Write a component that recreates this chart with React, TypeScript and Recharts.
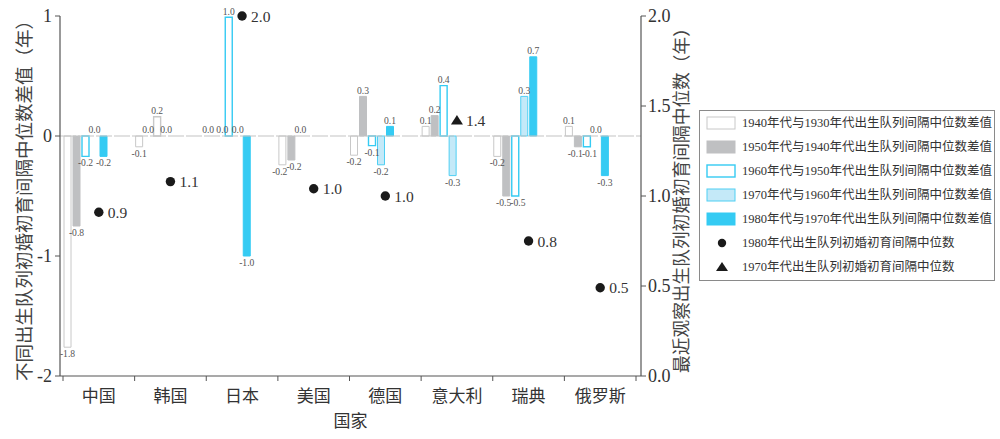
import React from 'react';
import { ComposedChart, Bar, Scatter, XAxis, YAxis, ReferenceLine, LabelList, Label, Cell, Rectangle } from 'recharts';

const countries = ['中国', '韩国', '日本', '美国', '德国', '意大利', '瑞典', '俄罗斯'];
const diff1940 = [-1.76, -0.09, 0.0, -0.24, -0.16, 0.08, -0.17, 0.08];
const diff1950 = [-0.75, 0.0, 0.0, -0.2, 0.33, 0.17, -0.5, -0.09];
const diff1960 = [-0.17, 0.16, 0.99, 0.0, -0.08, 0.42, -0.5, -0.09];
const diff1970 = [0.0, 0.0, 0.0, null, -0.24, -0.33, 0.33, 0.0];
const diff1980 = [-0.17, null, -1.0, null, 0.08, null, 0.66, -0.33];
const median1980 = [0.91, 1.08, 2.0, 1.04, 1.0, null, 0.75, 0.49];
const median1970 = [null, null, null, null, null, 1.42, null, null];

const leftTicks = [-2, -1, 0, 1];
const rightTicks = [0, 0.5, 1, 1.5, 2];

const barNames = [
  '1940年代与1930年代出生队列间隔中位数差值',
  '1950年代与1940年代出生队列间隔中位数差值',
  '1960年代与1950年代出生队列间隔中位数差值',
  '1970年代与1960年代出生队列间隔中位数差值',
  '1980年代与1970年代出生队列间隔中位数差值',
];
const dotNames = ['1980年代出生队列初婚初育间隔中位数', '1970年代出生队列初婚初育间隔中位数'];
const leftTitle = '不同出生队列初婚初育间隔中位数差值（年）';
const rightTitle = '最近观察出生队列初婚初育间隔中位数（年）';
const xTitle = '国家';

const FONT = '"Liberation Serif", "Noto Sans CJK SC", serif';
const CYAN = '#35cbf3';

const barStyles = [
  { key: 'd1940', fill: '#ffffff', stroke: '#c8c8c8', sw: 1 },
  { key: 'd1950', fill: '#bfc0c2', stroke: '#bfc0c2', sw: 1 },
  { key: 'd1960', fill: '#ffffff', stroke: CYAN, sw: 1.4 },
  { key: 'd1970', fill: '#c4e9f8', stroke: '#4fcff3', sw: 1 },
  { key: 'd1980', fill: CYAN, stroke: CYAN, sw: 1 },
];
const seriesArrays = [diff1940, diff1950, diff1960, diff1970, diff1980];
const spacerKeys = ['s1', 's2', 's3'];

const data = countries.map((c, i) => ({
  country: c,
  d1940: diff1940[i],
  d1950: diff1950[i],
  d1960: diff1960[i],
  d1970: diff1970[i],
  d1980: diff1980[i],
  m1980: median1980[i],
  m1970: median1970[i],
}));

const LABEL_FS = 9.6;

const makeBarLabel = (si: number) => (props: any) => {
  const { x, y, width, height, index } = props;
  let value = props.value;
  if (Array.isArray(value)) value = value[1];
  if (value == null || isNaN(Number(value))) return null;
  const v = Number(value);
  const cx = Number(x) + Number(width) / 2;
  const h = Number(height) || 0;
  const top = Math.min(Number(y), Number(y) + h);
  const bottom = Math.max(Number(y), Number(y) + h);
  const ppu = v !== 0 && Math.abs(h) > 1 ? Math.abs(h / v) : 120;
  const collides = (vn: any) =>
    vn != null && (vn >= 0) === (v >= 0) && Math.abs(vn - v) * ppu < 9;
  let shift = 0;
  const prev = si > 0 ? seriesArrays[si - 1][index] : null;
  const next = si < seriesArrays.length - 1 ? seriesArrays[si + 1][index] : null;
  if (collides(prev)) shift += 2.6;
  if (collides(next)) shift -= 2.6;
  const txt = v.toFixed(1);
  const ty = v >= 0 ? top - 2.5 : bottom + 10;
  return (
    <text x={cx + shift} y={ty} textAnchor="middle" fontSize={LABEL_FS} fill="#555" fontFamily={FONT}>
      {txt}
    </text>
  );
};

const BarShape = (props: any) => {
  if (!props || Math.abs(Number(props.height) || 0) < 0.5) return null;
  return <Rectangle {...props} />;
};

const makeShape = (key: string, kind: 'circle' | 'triangle') => (props: any) => {
  const { cx, cy, payload } = props;
  const v = payload ? payload[key] : null;
  if (v == null || cx == null || cy == null || isNaN(cy)) return null;
  return (
    <g>
      {kind === 'circle' ? (
        <circle cx={cx} cy={cy} r={4.7} fill="#1a1a1a" />
      ) : (
        <polygon points={`${cx},${cy - 5.5} ${cx - 6},${cy + 4} ${cx + 6},${cy + 4}`} fill="#1a1a1a" />
      )}
      <text x={cx + 9} y={cy} dominantBaseline="central" fontSize={15.5} fill="#333" fontFamily={FONT}>
        {Number(v).toFixed(1)}
      </text>
    </g>
  );
};

const XTick = (props: any) => {
  const { x, y, payload, index, visibleTicksCount } = props;
  const half = payload && payload.offset ? payload.offset : 35.8;
  const isLast = index === (visibleTicksCount ?? countries.length) - 1;
  return (
    <g>
      <line x1={x - half} x2={x - half} y1={y} y2={y + 5} stroke="#555" strokeWidth={1} />
      {isLast && <line x1={x + half} x2={x + half} y1={y} y2={y + 5} stroke="#555" strokeWidth={1} />}
      <text x={x} y={y + 20} textAnchor="middle" dominantBaseline="central" fontSize={17} fill="#333" fontFamily={FONT}>
        {payload.value}
      </text>
    </g>
  );
};

const LeftTitle = (props: any) => {
  const vb = props.viewBox || { x: 0, y: 16, width: 60, height: 360 };
  const cx = vb.x + 25;
  const cy = vb.y + vb.height / 2;
  return (
    <text x={cx} y={cy} transform={`rotate(-90 ${cx} ${cy})`} textAnchor="middle" dominantBaseline="central" fontSize={18.5} fill="#444" fontFamily={FONT}>
      {leftTitle}
    </text>
  );
};

const RightTitle = (props: any) => {
  const vb = props.viewBox || { x: 641, y: 16, width: 80, height: 360 };
  const cx = vb.x + 41;
  const cy = vb.y + vb.height / 2;
  return (
    <text x={cx} y={cy} transform={`rotate(-90 ${cx} ${cy})`} textAnchor="middle" dominantBaseline="central" fontSize={17.7} fill="#444" fontFamily={FONT}>
      {rightTitle}
    </text>
  );
};

const Legend = () => {
  const rowY = (i: number) => 13 + i * 24;
  return (
    <svg width={296} height={171} style={{ position: 'absolute', left: 699, top: 110 }}>
      <rect x={0.5} y={0.5} width={295} height={170} fill="#fff" stroke="#8a8a8a" strokeWidth={1} />
      {barStyles.map((s, i) => (
        <g key={s.key}>
          <rect x={8} y={rowY(i) - 6} width={28} height={12} fill={s.fill} stroke={s.stroke} strokeWidth={s.sw} />
          <text x={43} y={rowY(i)} dominantBaseline="central" fontSize={12.5} fill="#333" fontFamily={FONT}>
            {barNames[i]}
          </text>
        </g>
      ))}
      <circle cx={23} cy={rowY(5)} r={4.2} fill="#1a1a1a" />
      <text x={43} y={rowY(5)} dominantBaseline="central" fontSize={12.5} fill="#333" fontFamily={FONT}>
        {dotNames[0]}
      </text>
      <polygon points={`23,${rowY(6) - 5} 17,${rowY(6) + 4} 29,${rowY(6) + 4}`} fill="#1a1a1a" />
      <text x={43} y={rowY(6)} dominantBaseline="central" fontSize={12.5} fill="#333" fontFamily={FONT}>
        {dotNames[1]}
      </text>
    </svg>
  );
};

export default function App() {
  return (
    <div style={{ position: 'absolute', left: 0, top: 0, width: 1000, height: 439, background: '#fff' }}>
      <ComposedChart
        width={1000}
        height={439}
        data={data}
        margin={{ top: 16, right: 279, bottom: 0, left: 0 }}
        barSize={7}
        barGap={2}
      >
        <XAxis
          dataKey="country"
          xAxisId="x"
          height={63}
          padding={{ left: 3, right: 5 }}
          axisLine={{ stroke: '#555', strokeWidth: 1.2 }}
          tickLine={false}
          tickSize={0}
          tickMargin={0}
          tick={<XTick />}
          interval={0}
        >
          <Label
            content={(p: any) => {
              const vb = p.viewBox || { x: 60, y: 376, width: 581, height: 63 };
              return (
                <text x={vb.x + vb.width / 2} y={vb.y + 45} textAnchor="middle" dominantBaseline="central" fontSize={17} fill="#333" fontFamily={FONT}>
                  {xTitle}
                </text>
              );
            }}
          />
        </XAxis>
        <YAxis
          yAxisId="left"
          orientation="left"
          width={60}
          domain={[-2, 1]}
          ticks={leftTicks}
          axisLine={{ stroke: '#555', strokeWidth: 1.2 }}
          tickLine={{ stroke: '#555' }}
          tickSize={5}
          tickMargin={3}
          tick={{ fontSize: 18, fill: '#333', fontFamily: FONT }}
          tickFormatter={(v: number) => String(v)}
        >
          <Label content={<LeftTitle />} />
        </YAxis>
        <YAxis
          yAxisId="right"
          orientation="right"
          width={80}
          domain={[0, 2]}
          ticks={rightTicks}
          axisLine={{ stroke: '#555', strokeWidth: 1.2 }}
          tickLine={{ stroke: '#555' }}
          tickSize={5}
          tickMargin={2}
          tick={{ fontSize: 18, fill: '#333', fontFamily: FONT }}
          tickFormatter={(v: number) => v.toFixed(1)}
        >
          <Label content={<RightTitle />} />
        </YAxis>
        <ReferenceLine y={0} yAxisId="left" xAxisId="x" stroke="#c4c4c4" strokeWidth={1.2} strokeDasharray="16 2" />
        {barStyles.map((s, si) => (
          <Bar
            key={s.key}
            dataKey={s.key}
            xAxisId="x"
            yAxisId="left"
            fill={s.fill}
            stroke={s.stroke}
            strokeWidth={s.sw}
            minPointSize={(value: any) => (value === 0 ? 0.01 : 0)}
            shape={<BarShape />}
            isAnimationActive={false}
          >
            {s.key === 'd1960' &&
              data.map((d, i) => (
                <Cell key={i} stroke={d.country === '韩国' ? '#c8c8c8' : s.stroke} />
              ))}
            <LabelList dataKey={s.key} content={makeBarLabel(si)} />
          </Bar>
        ))}
        {spacerKeys.map((k) => (
          <Bar key={k} dataKey={k} xAxisId="x" yAxisId="left" fill="none" legendType="none" isAnimationActive={false} />
        ))}
        <Scatter dataKey="m1980" xAxisId="x" yAxisId="right" isAnimationActive={false} shape={makeShape('m1980', 'circle')} />
        <Scatter dataKey="m1970" xAxisId="x" yAxisId="right" isAnimationActive={false} shape={makeShape('m1970', 'triangle')} />
      </ComposedChart>
      <Legend />
    </div>
  );
}
